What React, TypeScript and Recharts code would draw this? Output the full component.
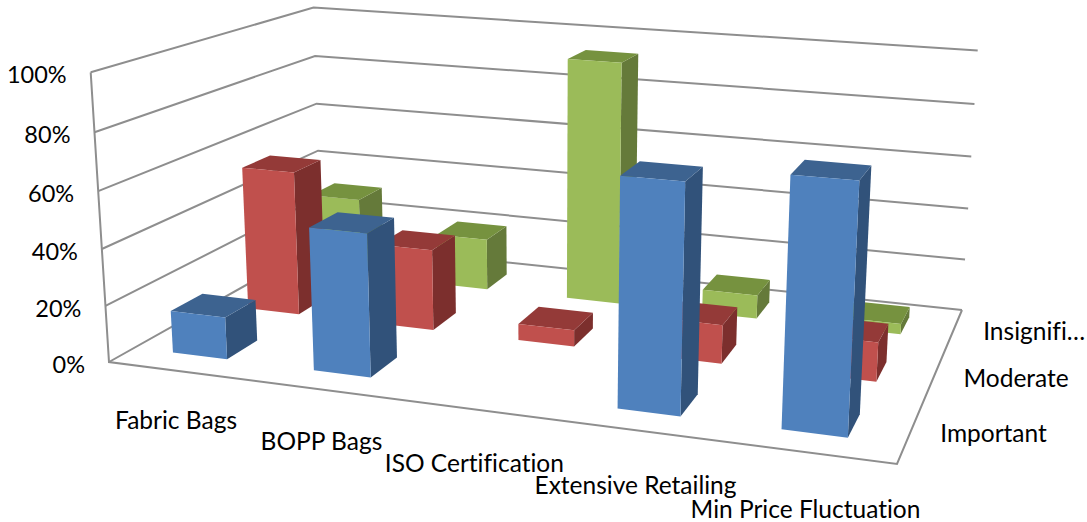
import { Bar, ComposedChart, Customized, XAxis, YAxis } from "recharts";

const CHART_W = 1087;
const CHART_H = 522;
const AXIS_SIZE = 1; // axes need a non-zero box or they drop their ticks
const FONT = "Lato, 'Open Sans', sans-serif";
const FONT_SIZE = 24.5;
const TEXT_STYLE = { fontVariantLigatures: "none" } as const;

const categories = ["Fabric Bags", "BOPP Bags", "ISO Certification", "Extensive Retailing", "Min Price Fluctuation"];
const important = [15, 50, 0, 77, 82];
const moderate = [54, 30, 6, 14, 14];
const insignificant = [31, 20, 93, 9, 4];
const seriesLabels = ["Important", "Moderate", "Insignifi…"];
const percentTicks = [0, 20, 40, 60, 80, 100];

const rows = categories.map((name, i) => ({
  name,
  important: important[i],
  moderate: moderate[i],
  insignificant: insignificant[i],
}));

// Box corners of the 3D plot on screen, used to fit the camera below
const FLOOR = [
  [109, 362],
  [897, 464],
  [962, 310],
  [321, 243],
];
const CEILING = [
  { u: 0, v: 0, x: 91, y: 73 },
  { u: 0, v: 1, x: 313, y: 12 },
  { u: 1, v: 1, x: 978, y: 45 },
];

const BAR_W = 0.39; // bar width as a share of its category cell
const BAR_D = 0.4; // bar depth as a share of its series cell
const CELL_MID = 0.475;

function solve(A: number[][], b: number[]) {
  const m = A.map((row, i) => [...row, b[i]]);
  const n = b.length;
  for (let c = 0; c < n; c++) {
    let p = c;
    for (let r = c + 1; r < n; r++) if (Math.abs(m[r][c]) > Math.abs(m[p][c])) p = r;
    [m[c], m[p]] = [m[p], m[c]];
    for (let r = 0; r < n; r++) {
      if (r === c) continue;
      const f = m[r][c] / m[c][c];
      for (let k = c; k <= n; k++) m[r][k] -= f * m[c][k];
    }
  }
  return m.map((row, i) => row[n] / row[i]);
}

// floor homography, then the height column by least squares
function fitCamera() {
  const uv = [
    [0, 0],
    [1, 0],
    [1, 1],
    [0, 1],
  ];
  const A: number[][] = [];
  const b: number[] = [];
  uv.forEach(([u, v], i) => {
    const [x, y] = FLOOR[i];
    A.push([u, v, 1, 0, 0, 0, -u * x, -v * x]);
    b.push(x);
    A.push([0, 0, 0, u, v, 1, -u * y, -v * y]);
    b.push(y);
  });
  const [a, bb, d, e, f, h, i, j] = solve(A, b);

  const N = [
    [0, 0, 0],
    [0, 0, 0],
    [0, 0, 0],
  ];
  const r = [0, 0, 0];
  const add = (row: number[], val: number) => {
    for (let p = 0; p < 3; p++) {
      r[p] += row[p] * val;
      for (let q = 0; q < 3; q++) N[p][q] += row[p] * row[q];
    }
  };
  CEILING.forEach(({ u, v, x, y }) => {
    const W = i * u + j * v + 1;
    add([1, 0, -x], x * W - (a * u + bb * v + d));
    add([0, 1, -y], y * W - (e * u + f * v + h));
  });
  const [c, g, k] = solve(N, r);
  return { a, bb, c, d, e, f, g, h, i, j, k };
}

const cam = fitCamera();

// u: along categories, v: into the chart, t: height, all 0..1
function project(u: number, v: number, t: number) {
  const w = cam.i * u + cam.j * v + cam.k * t + 1;
  return {
    x: (cam.a * u + cam.bb * v + cam.c * t + cam.d) / w,
    y: (cam.e * u + cam.f * v + cam.g * t + cam.h) / w,
  };
}

const poly = (pts: { x: number; y: number }[]) => pts.map((p) => `${p.x},${p.y}`).join(" ");

function barShape(depth: number, front: string, side: string, top: string) {
  return (props: any) => {
    const t = props.height / (CHART_H - AXIS_SIZE);
    if (!t) return <g />;
    const u0 = (props.index + CELL_MID - BAR_W / 2) / categories.length;
    const u1 = (props.index + CELL_MID + BAR_W / 2) / categories.length;
    const v0 = (depth + 0.5 - BAR_D / 2) / seriesLabels.length;
    const v1 = (depth + 0.5 + BAR_D / 2) / seriesLabels.length;
    return (
      <g>
        <polygon points={poly([project(u1, v0, 0), project(u1, v1, 0), project(u1, v1, t), project(u1, v0, t)])} fill={side} />
        <polygon points={poly([project(u0, v0, t), project(u1, v0, t), project(u1, v1, t), project(u0, v1, t)])} fill={top} />
        <polygon points={poly([project(u0, v0, 0), project(u1, v0, 0), project(u1, v0, t), project(u0, v0, t)])} fill={front} />
      </g>
    );
  };
}

function Walls() {
  const fl0 = project(0, 0, 0);
  const fr0 = project(1, 0, 0);
  const br0 = project(1, 1, 0);
  const fl1 = project(0, 0, 1);
  return (
    <g fill="none" stroke="#8e8e8e" strokeWidth={2}>
      {percentTicks.map((tick) => (
        <polyline key={tick} points={poly([project(0, 0, tick / 100), project(0, 1, tick / 100), project(1, 1, tick / 100)])} />
      ))}
      <polyline points={poly([fl1, fl0, fr0, br0])} />
    </g>
  );
}

function SeriesLabels() {
  return (
    <g fontFamily={FONT} fontSize={FONT_SIZE} fill="#000" style={TEXT_STYLE}>
      {seriesLabels.map((label, i) => {
        const p = project(1, (i + 0.5) / seriesLabels.length, 0);
        return (
          <text key={label} x={p.x + 30} y={p.y} dominantBaseline="central">
            {label}
          </text>
        );
      })}
    </g>
  );
}

// each label sits a little further below the floor edge than the one before
function CategoryTick(props: any) {
  const u = (props.index + 0.5) / categories.length;
  const p = project(u, 0, 0);
  return (
    <text x={p.x - 3} y={p.y + 48 + 9 * u} textAnchor="middle" dominantBaseline="central" fontFamily={FONT} fontSize={FONT_SIZE} fill="#000" style={TEXT_STYLE}>
      {props.payload.value}
    </text>
  );
}

function PercentTick(props: any) {
  const p = project(0, 0, props.payload.value / 100);
  return (
    <text x={p.x - 24} y={p.y + 2} textAnchor="end" dominantBaseline="central" fontFamily={FONT} fontSize={23.5} fill="#000" style={TEXT_STYLE}>
      {props.payload.value}%
    </text>
  );
}

export default function App() {
  return (
    <div style={{ position: "absolute", left: 0, top: 0 }}>
      <ComposedChart width={CHART_W} height={CHART_H} data={rows} margin={{ top: 0, right: 0, bottom: 0, left: 0 }}>
        <XAxis dataKey="name" height={AXIS_SIZE} axisLine={false} tickLine={false} interval={0} tick={CategoryTick} />
        <YAxis width={AXIS_SIZE} domain={[0, 100]} ticks={percentTicks} axisLine={false} tickLine={false} interval={0} tick={PercentTick} />
        <Customized component={Walls} />
        <Customized component={SeriesLabels} />
        <Bar dataKey="insignificant" isAnimationActive={false} shape={barShape(2, "#9bbb59", "#657a3a", "#76923f")} />
        <Bar dataKey="moderate" isAnimationActive={false} shape={barShape(1, "#c0504d", "#7c2f2d", "#943a38")} />
        <Bar dataKey="important" isAnimationActive={false} shape={barShape(0, "#4f81bd", "#31527a", "#3d6390")} />
      </ComposedChart>
    </div>
  );
}
